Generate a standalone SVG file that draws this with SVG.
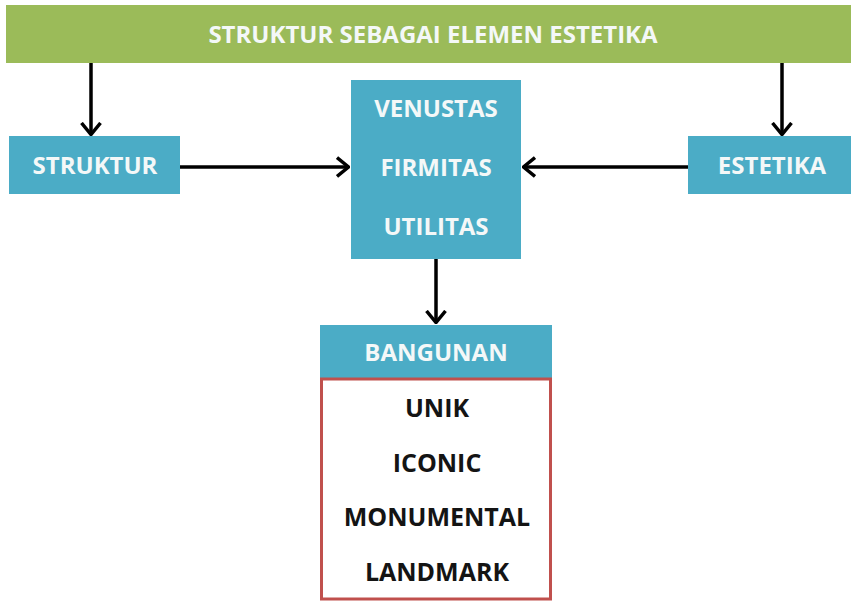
<svg xmlns="http://www.w3.org/2000/svg" width="851" height="603" viewBox="0 0 851 603">
<style>
.blue{fill:#4BACC6}
.green{fill:#9BBB59}
.wt{fill:#F4F8F8;font-family:"Open Sans","DejaVu Sans",sans-serif;font-weight:bold;text-anchor:middle;dominant-baseline:central}
.bt{fill:#141414;font-family:"Open Sans","DejaVu Sans",sans-serif;font-weight:bold;text-anchor:middle;dominant-baseline:central;font-size:25px}
.conn{stroke:#000;stroke-width:3.5;fill:none}
</style>
<defs>
<marker id="arr" viewBox="0 0 14 22" refX="13" refY="11" markerWidth="14" markerHeight="22" markerUnits="userSpaceOnUse" orient="auto">
<path d="M1,1.5 L12.5,11 L1,20.5" fill="none" stroke="#000" stroke-width="3.5" stroke-linejoin="miter"/>
</marker>
</defs>
<rect width="851" height="603" fill="#fff"/>
<g id="title">
<rect class="green" x="6" y="5" width="845" height="58"/>
<text class="wt" x="433" y="33" font-size="24">STRUKTUR SEBAGAI ELEMEN ESTETIKA</text>
</g>
<g id="struktur">
<rect class="blue" x="9" y="136" width="171" height="58"/>
<text class="wt" x="95" y="164" font-size="24">STRUKTUR</text>
</g>
<g id="center">
<rect class="blue" x="351" y="80" width="170" height="179"/>
<text class="wt" x="436" y="107" font-size="24">VENUSTAS</text>
<text class="wt" x="436" y="166" font-size="24">FIRMITAS</text>
<text class="wt" x="436" y="225" font-size="24">UTILITAS</text>
</g>
<g id="estetika">
<rect class="blue" x="688" y="136" width="163" height="58"/>
<text class="wt" x="772" y="164" font-size="24">ESTETIKA</text>
</g>
<g id="bangunan">
<rect class="blue" x="320" y="325" width="232" height="54"/>
<text class="wt" x="436" y="351" font-size="24">BANGUNAN</text>
</g>
<g id="ciri">
<rect x="321.5" y="379" width="229" height="220" fill="#fff" stroke="#C0504D" stroke-width="3"/>
<text class="bt" x="437" y="407">UNIK</text>
<text class="bt" x="437" y="462">ICONIC</text>
<text class="bt" x="437" y="516">MONUMENTAL</text>
<text class="bt" x="437" y="571">LANDMARK</text>
</g>
<g id="connectors">
<line class="conn" x1="91" y1="63" x2="91" y2="135" marker-end="url(#arr)"/>
<line class="conn" x1="782" y1="63" x2="782" y2="135" marker-end="url(#arr)"/>
<line class="conn" x1="180" y1="167" x2="349" y2="167" marker-end="url(#arr)"/>
<line class="conn" x1="688" y1="167" x2="523" y2="167" marker-end="url(#arr)"/>
<line class="conn" x1="436" y1="259" x2="436" y2="323" marker-end="url(#arr)"/>
</g>
</svg>
